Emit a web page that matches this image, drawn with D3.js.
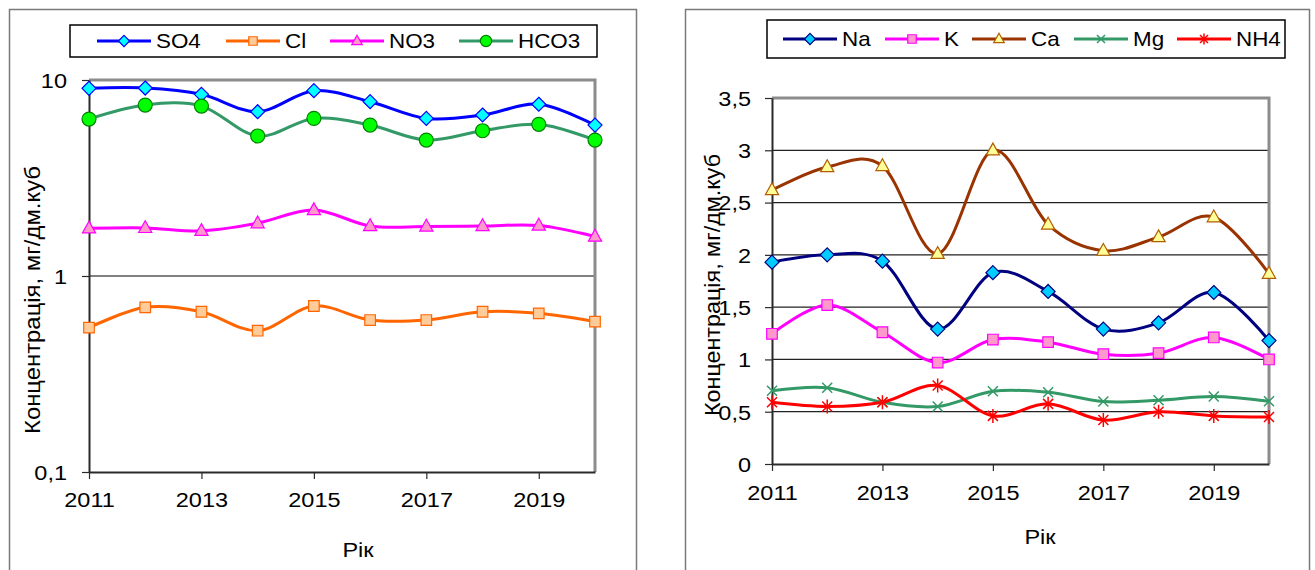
<!DOCTYPE html>
<html>
<head>
<meta charset="utf-8">
<script src="https://cdn.jsdelivr.net/npm/d3@7"></script>
<style>
  html, body { margin: 0; padding: 0; background: #fff; }
  svg text { font-family: "Liberation Sans", Arial, sans-serif; font-size: 21px; fill: #000; }
  svg .legend text { font-size: 20px; }
</style>
</head>
<body>
<svg id="chart" width="1315" height="570"></svg>
<script>
// ---- data -------------------------------------------------------------
const years = [2011, 2012, 2013, 2014, 2015, 2016, 2017, 2018, 2019, 2020];
const yearTicks = [2011, 2013, 2015, 2017, 2019];

// anions, mg/dm3
const so4  = [9.07, 9.10, 8.45, 6.89, 8.82, 7.75, 6.37, 6.63, 7.52, 5.89];
const cl   = [0.545, 0.692, 0.657, 0.526, 0.703, 0.596, 0.596, 0.657, 0.645, 0.585];
const no3  = [1.75, 1.76, 1.70, 1.86, 2.17, 1.80, 1.79, 1.80, 1.81, 1.59];
const hco3 = [6.32, 7.45, 7.36, 5.18, 6.37, 5.89, 4.94, 5.51, 5.94, 4.94];
const logTicks = [0.1, 1, 10];

// cations, mg/dm3
const na  = [1.93, 2.00, 1.94, 1.29, 1.83, 1.65, 1.29, 1.35, 1.64, 1.18];
const k   = [1.245, 1.52, 1.26, 0.97, 1.19, 1.165, 1.05, 1.06, 1.21, 1.00];
const ca  = [2.62, 2.84, 2.85, 2.01, 3.00, 2.29, 2.04, 2.17, 2.36, 1.82];
const mg  = [0.70, 0.73, 0.59, 0.55, 0.695, 0.686, 0.597, 0.61, 0.645, 0.60];
const nh4 = [0.59, 0.55, 0.59, 0.75, 0.46, 0.575, 0.42, 0.50, 0.46, 0.45];
const linTicks = [0, 0.5, 1, 1.5, 2, 2.5, 3, 3.5];

const axisTitle = "Концентрація, мг/дм.куб";
const yearTitle = "Рік";

// ---- series styling ---------------------------------------------------
const anions = [
  { name: "SO4",  values: so4,  line: "#0000ff", fill: "#00ffff", stroke: "#0000ff", marker: "diamond" },
  { name: "Cl",   values: cl,   line: "#ff6600", fill: "#ffcc99", stroke: "#ff6600", marker: "square" },
  { name: "NO3",  values: no3,  line: "#ff00ff", fill: "#ff99cc", stroke: "#ff00ff", marker: "triangle" },
  { name: "HCO3", values: hco3, line: "#339966", fill: "#00ff00", stroke: "#008000", marker: "circle" }
];
const cations = [
  { name: "Na",  values: na,  line: "#000080", fill: "#00ccff", stroke: "#000080", marker: "diamond" },
  { name: "K",   values: k,   line: "#ff00ff", fill: "#ff99cc", stroke: "#ff00ff", marker: "square" },
  { name: "Ca",  values: ca,  line: "#993300", fill: "#ffff99", stroke: "#b25c00", marker: "triangle" },
  { name: "Mg",  values: mg,  line: "#339966", fill: "none",    stroke: "#339966", marker: "cross" },
  { name: "NH4", values: nh4, line: "#ff0000", fill: "none",    stroke: "#ff0000", marker: "star" }
];

const SX = 1.12;           // horizontal text stretch
const fmt = d => String(d).replace(".", ",");

const svg = d3.select("#chart");
svg.append("rect").attr("width", 1315).attr("height", 570).attr("fill", "#fff");

function text(g, x, y, str, anchor) {
  return g.append("text")
    .attr("transform", `translate(${x},${y}) scale(${SX},1)`)
    .attr("text-anchor", anchor || "middle")
    .attr("dy", "0.35em")
    .text(str);
}

function markerPath(type, s) {
  const h = 7 * s;
  switch (type) {
    case "diamond":  return `M0,${-h}L${h},0L0,${h}L${-h},0Z`;
    case "square":   { const a = 5.3 * s; return `M${-a},${-a}H${a}V${a}H${-a}Z`; }
    case "triangle": { const w = 6.6 * s; return `M0,${-7.2 * s}L${w},${4.6 * s}L${-w},${4.6 * s}Z`; }
    case "cross":    { const a = 5 * s; return `M${-a},${-a}L${a},${a}M${-a},${a}L${a},${-a}`; }
    case "star":     { const a = 5 * s; return `M${-a},${-a}L${a},${a}M${-a},${a}L${a},${-a}M0,${-7 * s}V${7 * s}`; }
  }
  return "";
}

function drawMarker(g, sr, x, y, s) {
  if (sr.marker === "circle") {
    g.append("circle").attr("cx", x).attr("cy", y).attr("r", 7 * s)
      .attr("fill", sr.fill).attr("stroke", sr.stroke).attr("stroke-width", 1.2);
  } else {
    g.append("path").attr("transform", `translate(${x},${y})`)
      .attr("d", markerPath(sr.marker, s))
      .attr("fill", sr.fill).attr("stroke", sr.stroke)
      .attr("stroke-width", sr.fill === "none" ? 1.5 : 1.2);
  }
}

function legend(g, series, box, starts) {
  const lg = g.append("g").attr("class", "legend");
  lg.append("rect").attr("x", box.x).attr("y", box.y).attr("width", box.w).attr("height", box.h)
    .attr("fill", "#fff").attr("stroke", "#000").attr("stroke-width", 1.5);
  const cy = box.y + box.h / 2;
  series.forEach((sr, i) => {
    const x = starts[i];
    lg.append("line").attr("x1", x).attr("x2", x + 54).attr("y1", cy).attr("y2", cy)
      .attr("stroke", sr.line).attr("stroke-width", 3);
    drawMarker(lg, sr, x + 27, cy, 0.8);
    text(lg, x + 59, cy, sr.name, "start");
  });
}

function panel(cfg) {
  const g = svg.append("g");
  // outer frame of the panel
  g.append("rect").attr("x", cfg.frame.x).attr("y", cfg.frame.y)
    .attr("width", cfg.frame.w).attr("height", cfg.frame.h)
    .attr("fill", "none").attr("stroke", "#7a7a7a").attr("stroke-width", 1.5);

  const x = d3.scaleLinear().domain([2011, 2020]).range([cfg.x0, cfg.x1]);
  const y = cfg.y;

  // horizontal grid
  g.append("g").selectAll("line").data(cfg.grid).join("line")
    .attr("x1", cfg.x0).attr("x2", cfg.x1)
    .attr("y1", d => y(d)).attr("y2", d => y(d))
    .attr("stroke", cfg.gridColor).attr("stroke-width", cfg.gridWidth);

  // top and right edges of the plot area
  g.append("path")
    .attr("d", `M${cfg.x0},${cfg.yTop}H${cfg.x1}V${cfg.yBot}`)
    .attr("fill", "none").attr("stroke", "#8c8c8c").attr("stroke-width", 3);

  // axes
  const ax = g.append("g").attr("transform", `translate(0,${cfg.yBot})`)
    .call(d3.axisBottom(x).tickValues(yearTicks).tickFormat(d3.format("d")).tickSize(7).tickSizeOuter(0));
  ax.selectAll("text").attr("y", cfg.xLabelOffset).attr("dy", "0.35em")
    .attr("transform", `scale(${SX},1)`);
  const ay = g.append("g").attr("transform", `translate(${cfg.x0},0)`)
    .call(d3.axisLeft(y).tickValues(cfg.yTicks).tickFormat(fmt).tickSize(7).tickSizeOuter(0));
  ay.selectAll("text").attr("x", -cfg.yLabelOffset / SX).attr("dy", "0.35em")
    .attr("transform", `scale(${SX},1)`);
  [ax, ay].forEach(a => {
    a.attr("font-family", null).attr("font-size", null);
    a.select(".domain").attr("stroke", "#2a2a2a").attr("stroke-width", 2);
    a.selectAll(".tick line").attr("stroke", "#2a2a2a").attr("stroke-width", 1.2);
  });

  // series: smoothed lines with markers
  const line = d3.line().x((d, i) => x(years[i])).y(d => y(d)).curve(d3.curveCardinal.tension(0));
  cfg.series.forEach(sr => {
    g.append("path").attr("d", line(sr.values)).attr("fill", "none")
      .attr("stroke", sr.line).attr("stroke-width", 3).attr("stroke-linejoin", "round");
  });
  cfg.series.forEach(sr => {
    const mg = g.append("g");
    sr.values.forEach((v, i) => drawMarker(mg, sr, x(years[i]), y(v), 1));
  });

  // titles
  g.append("text")
    .attr("transform", `translate(${cfg.titleX},${cfg.titleY}) rotate(-90)`)
    .attr("text-anchor", "middle").attr("dy", "0.35em")
    .attr("textLength", cfg.titleLen).attr("lengthAdjust", "spacingAndGlyphs")
    .style("font-size", "22px")
    .text(axisTitle);
  text(g, cfg.yearX, cfg.yearY, yearTitle);

  legend(g, cfg.series, cfg.legendBox, cfg.legendStarts);
}

// left: anions on a logarithmic scale
panel({
  frame: { x: 9.5, y: 9.5, w: 627, h: 600 },
  x0: 89, x1: 595, yTop: 80, yBot: 472,
  y: d3.scaleLog().domain([0.1, 10]).range([472, 80]),
  yTicks: logTicks, grid: [1], gridColor: "#808080", gridWidth: 2,
  xLabelOffset: 28, yLabelOffset: 22,
  series: anions,
  titleX: 32, titleY: 300, titleLen: 268,
  yearX: 358, yearY: 550,
  legendBox: { x: 70, y: 25, w: 527, h: 32 },
  legendStarts: [97, 226, 330, 459]
});

// right: cations on a linear scale
panel({
  frame: { x: 685.5, y: 9.5, w: 624, h: 600 },
  x0: 772, x1: 1269, yTop: 98, yBot: 464,
  y: d3.scaleLinear().domain([0, 3.5]).range([464, 98]),
  yTicks: linTicks, grid: [0.5, 1, 1.5, 2, 2.5, 3], gridColor: "#222", gridWidth: 1.2,
  xLabelOffset: 29, yLabelOffset: 21,
  series: cations,
  titleX: 712, titleY: 285, titleLen: 262,
  yearX: 1040, yearY: 537,
  legendBox: { x: 767, y: 20, w: 518, h: 38 },
  legendStarts: [783, 885, 972, 1074, 1177]
});
</script>
</body>
</html>
